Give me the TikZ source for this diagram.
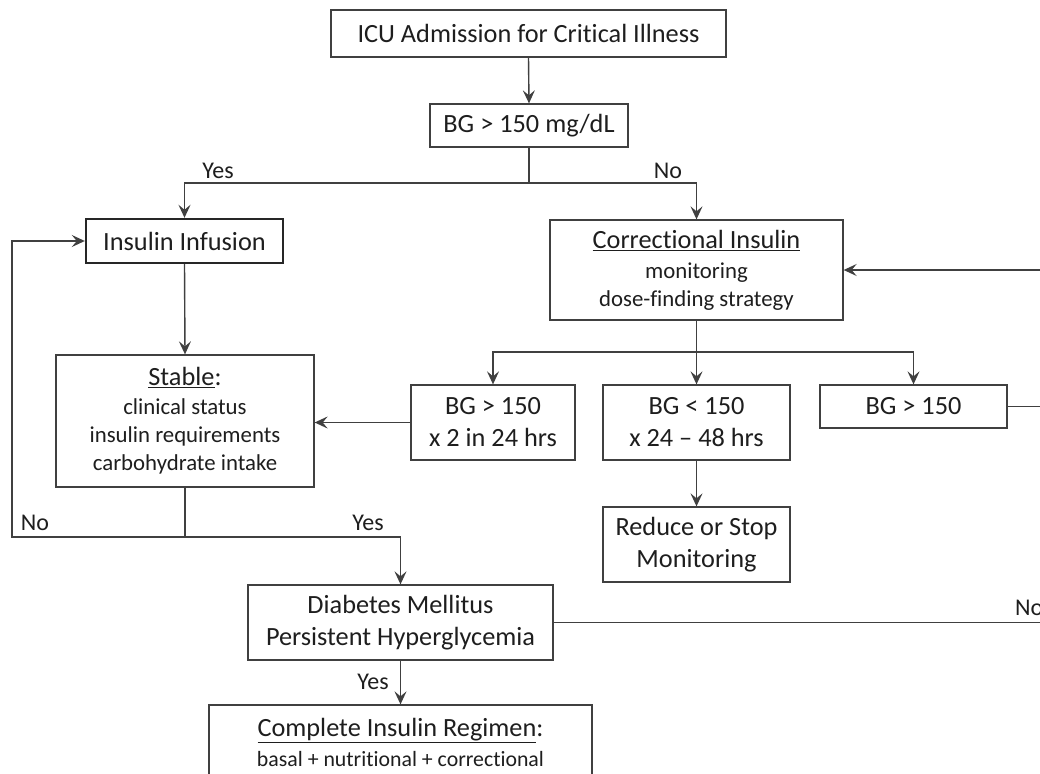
\documentclass[tikz,border=0pt]{standalone}
\usepackage{fontspec}
\setmainfont{Carlito}[Ligatures={TeX,NoCommon},Contextuals=NoAlternate]
\usetikzlibrary{arrows.meta}
\definecolor{linegray}{HTML}{404040}
\definecolor{inkgray}{HTML}{1E1E1E}
\newcommand{\mainsz}{\fontsize{26.3}{32}\selectfont}
\newcommand{\subsz}{\fontsize{22.8}{27.5}\selectfont}
\newcommand{\lblsz}{\fontsize{24}{28}\selectfont}
\begin{document}
\begin{tikzpicture}[x=1pt,y=-1pt,
  box/.style={draw=linegray, line width=1.3pt, fill=white, inner sep=0pt,
    align=center, text=inkgray, font=\mainsz},
  thickbox/.style={box, draw=black!85, line width=2.4pt},
  conn/.style={draw=linegray, line width=1.4pt},
  arr/.style={conn, -{Stealth[length=13pt,width=12pt,inset=5pt]}},
  lbl/.style={text=inkgray, font=\lblsz, inner sep=0pt}]
\clip (0,0) rectangle (1040,773);
\fill[white] (0,0) rectangle (1040,773);

% boxes
\node[box, minimum width=395, minimum height=47] (icu) at (528.5,33.5) {ICU Admission for Critical Illness};
\node[box, minimum width=198, minimum height=43] (bg) at (529,125.5) {BG > 150 mg/dL};
\node[thickbox, minimum width=197, minimum height=44] (inf) at (184.5,241) {Insulin Infusion};
\node[box, minimum width=293, minimum height=100] (corr) at (696.5,270)
  {\underline{Correctional Insulin}\\[-2pt]{\subsz monitoring}\\[-4pt]{\subsz dose-finding strategy}};
\node[box, minimum width=258, minimum height=132] (stable) at (185,421)
  {\underline{Stable}:\\[-3pt]{\subsz clinical status}\\[-4pt]{\subsz insulin requirements}\\[-4pt]{\subsz carbohydrate intake}};
\node[box, minimum width=164, minimum height=75] (bgtwice) at (493,422.5) {BG > 150\\x 2 in 24 hrs};
\node[box, minimum width=187, minimum height=75] (bglow) at (696.5,422.5) {BG < 150\\x 24 -- 48 hrs};
\node[box, minimum width=187, minimum height=43] (bghigh) at (913.5,406.5) {BG > 150};
\node[box, minimum width=187, minimum height=75] (reduce) at (696.5,544.5) {Reduce or Stop\\Monitoring};
\node[box, minimum width=305, minimum height=75] (dm) at (400.5,622.5) {Diabetes Mellitus\\Persistent Hyperglycemia};
\node[box, minimum width=383, minimum height=74] (cir) at (400.5,742)
  {\underline{Complete Insulin Regimen}:\\[-2pt]{\fontsize{21.8}{26}\selectfont basal + nutritional + correctional}};

% junction points
\coordinate (bgsplit) at (529,183);
\coordinate (corrsplit) at (696.5,352);
\coordinate (stsplit) at (185,537);
\coordinate (loopleft) at (12,537);
\coordinate (farright) at (1070,0);

% top decision
\draw[arr] (icu.south) -- (bg.north);
\draw[conn] (bg.south) -- (bgsplit);
\draw[arr] (bgsplit) -| (inf.north);
\draw[arr] (bgsplit) -| (corr.north);
\node[lbl] (yes1) at (218,171) {Yes};
\node[lbl] (no1) at (668,171) {No};

% insulin infusion branch
\draw[arr] (inf.south) -- (stable.north);
\draw[conn] (stable.south) -- (stsplit);
\draw[arr] (stsplit) -- (loopleft) |- (inf.west);
\draw[arr] (stsplit) -| (dm.north);
\node[lbl] (no2) at (35,523) {No};
\node[lbl] (yes2) at (368,523) {Yes};

% correctional insulin branch
\draw[conn] (corr.south) -- (corrsplit);
\draw[arr] (corrsplit) -| (bgtwice.north);
\draw[arr] (corrsplit) -- (bglow.north);
\draw[arr] (corrsplit) -| (bghigh.north);
\draw[arr] (bgtwice.west) -- (bgtwice.west -| stable.east);
\draw[arr] (bglow.south) -- (reduce.north);
\draw[arr] (bghigh.east) -- (bghigh.east -| farright) -- (corr.east -| farright) -- (corr.east);

% diabetes decision, its "No" branch running on to the right
\draw[conn] (dm.east) -- (dm.east -| farright);
\node[lbl, anchor=west] (no3) at (1015,608) {No};
\draw[arr] (dm.south) -- (cir.north);
\node[lbl] (yes3) at (373,682) {Yes};
\end{tikzpicture}
\end{document}
